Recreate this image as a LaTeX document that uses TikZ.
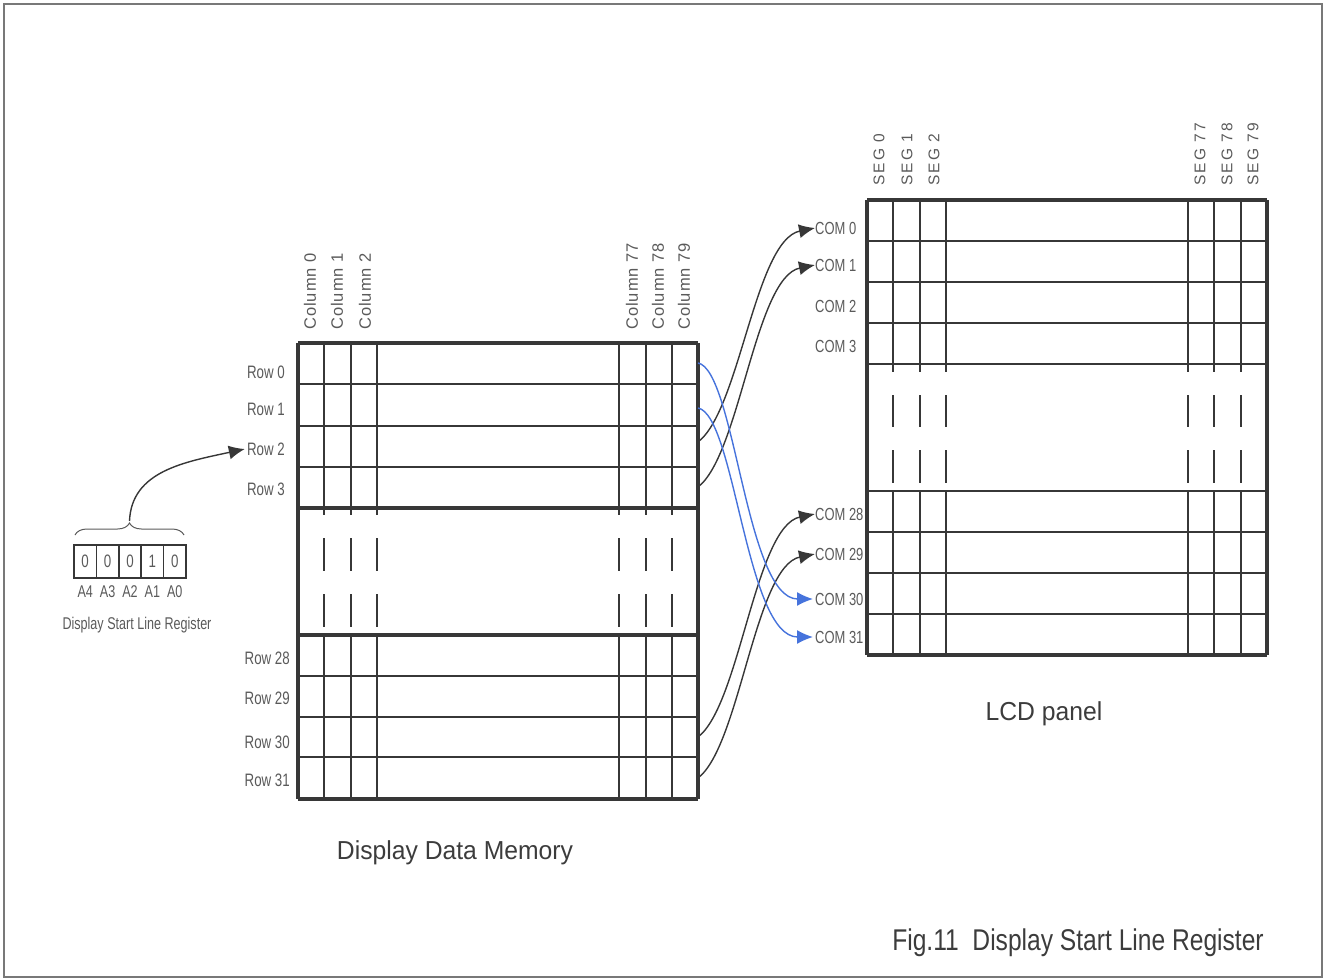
\documentclass[tikz,border=0pt]{standalone}
\usepackage{fontspec}
\setmainfont{Liberation Sans}
\newfontfamily\nfont[FakeStretch=0.74]{Liberation Sans}
\newfontfamily\tfont[FakeStretch=0.95]{Liberation Sans}
\newfontfamily\ffont[FakeStretch=0.82]{Liberation Sans}
\newfontfamily\colfont[LetterSpace=6]{Liberation Sans}
\newfontfamily\segfont[LetterSpace=14]{Liberation Sans}
\usetikzlibrary{arrows.meta,decorations.pathreplacing}
\definecolor{gridc}{RGB}{55,55,55}
\definecolor{txtc}{RGB}{90,90,90}
\definecolor{ttlc}{RGB}{60,60,60}
\definecolor{blc}{RGB}{70,115,220}
\definecolor{framec}{RGB}{120,120,120}
\tikzset{
  gline/.style={draw=gridc, line width=2.2pt},
  tline/.style={draw=gridc, line width=3.2pt},
  hline/.style={draw=gridc, line width=1.5pt},
  rowlab/.style={anchor=east, inner sep=0pt, text=txtc, font=\nfont\fontsize{18}{18}\selectfont},
  comlab/.style={anchor=west, inner sep=0pt, text=txtc, font=\nfont\fontsize{17.5}{17.5}\selectfont},
  collab/.style={rotate=90, anchor=west, inner sep=0pt, text=txtc, font=\colfont\fontsize{16.5}{16.5}\selectfont},
  seglab/.style={rotate=90, anchor=west, inner sep=0pt, text=txtc, font=\segfont\fontsize{15.5}{15.5}\selectfont},
  regcell/.style={draw=gridc, line width=1.5pt, minimum width=22.4pt, minimum height=33pt, inner sep=0pt, text=txtc, font=\nfont\fontsize{18}{18}\selectfont},
  reglab/.style={inner sep=0pt, text=txtc, font=\nfont\fontsize{17}{17}\selectfont},
  title/.style={inner sep=0pt, text=ttlc, font=\tfont\fontsize{26}{26}\selectfont},
  blkarrow/.style={draw=gridc, line width=1.4pt, -{Latex[length=16pt,width=14pt]}},
  bluarrow/.style={draw=blc, line width=1.4pt, -{Latex[length=16pt,width=14pt]}}
}
\begin{document}
\begin{tikzpicture}[x=1pt,y=-1pt]
\useasboundingbox (0,0) rectangle (1325,979);
\draw[draw=framec, line width=2pt] (4,4) rectangle (1322,977);

% ---------- Display data memory grid ----------
\foreach \y in {384,426,467,676,717,757} \draw[gline] (298,\y) -- (698,\y);
\foreach \y in {343,508,635,799} \draw[tline] (298,\y) -- (698,\y);
\draw[tline] (298,343) -- (298,799);
\draw[tline] (698,343) -- (698,799);
\foreach \x in {324,351,377,619,646,672} {
  \draw[gline] (\x,343) -- (\x,515);
  \draw[gline] (\x,538) -- (\x,571);
  \draw[gline] (\x,594) -- (\x,627);
  \draw[gline] (\x,635) -- (\x,799);
}

% column labels
\node[collab] (col0)  at (310,330) {Column 0};
\node[collab] (col1)  at (337,330) {Column 1};
\node[collab] (col2)  at (365,330) {Column 2};
\node[collab] (col77) at (632,330) {Column 77};
\node[collab] (col78) at (658,330) {Column 78};
\node[collab] (col79) at (684,330) {Column 79};

% row labels
\node[rowlab] (r0)  at (285,372) {Row 0};
\node[rowlab] (r1)  at (285,409) {Row 1};
\node[rowlab] (r2)  at (285,449) {Row 2};
\node[rowlab] (r3)  at (285,489) {Row 3};
\node[rowlab] (r28) at (290,658) {Row 28};
\node[rowlab] (r29) at (290,698) {Row 29};
\node[rowlab] (r30) at (290,742) {Row 30};
\node[rowlab] (r31) at (290,780) {Row 31};

% ---------- LCD panel grid ----------
\foreach \y in {241,282,323,364,532,573,614} \draw[gline] (867,\y) -- (1267,\y);
\foreach \y in {200,655} \draw[tline] (867,\y) -- (1267,\y);
\draw[hline] (867,491) -- (1267,491);
\draw[tline] (867,200) -- (867,655);
\draw[tline] (1267,200) -- (1267,655);
\foreach \x in {893,920,946,1188,1214,1241} {
  \draw[gline] (\x,200) -- (\x,372);
  \draw[gline] (\x,395) -- (\x,427);
  \draw[gline] (\x,450) -- (\x,483);
  \draw[gline] (\x,491) -- (\x,655);
}

% SEG labels
\node[seglab] (s0)  at (879,186) {SEG 0};
\node[seglab] (s1)  at (907,186) {SEG 1};
\node[seglab] (s2)  at (934,186) {SEG 2};
\node[seglab] (s77) at (1200,186) {SEG 77};
\node[seglab] (s78) at (1227,186) {SEG 78};
\node[seglab] (s79) at (1253,186) {SEG 79};

% COM labels
\node[comlab] (c0)  at (815,228) {COM 0};
\node[comlab] (c1)  at (815,265) {COM 1};
\node[comlab] (c2)  at (815,306) {COM 2};
\node[comlab] (c3)  at (815,346) {COM 3};
\node[comlab] (c28) at (815,514) {COM 28};
\node[comlab] (c29) at (815,554) {COM 29};
\node[comlab] (c30) at (815,599) {COM 30};
\node[comlab] (c31) at (815,637) {COM 31};

% arrow start points on memory right edge
\coordinate (m0)  at (698,363);
\coordinate (m1)  at (698,408);
\coordinate (m2)  at (698,442);
\coordinate (m3)  at (698,487);
\coordinate (m30) at (698,737);
\coordinate (m31) at (698,778);

\draw[blkarrow] (m2)  .. controls +(42,-32) and +(-60,12) .. (c0.west);
\draw[blkarrow] (m3)  .. controls +(42,-32) and +(-60,12) .. (c1.west);
\draw[blkarrow] (m30) .. controls +(42,-32) and +(-60,12) .. (c28.west);
\draw[blkarrow] (m31) .. controls +(42,-32) and +(-60,12) .. (c29.west);
\draw[bluarrow] (m0)  .. controls +(37,7) and +(-67,0) .. ([xshift=-2pt]c30.west);
\draw[bluarrow] (m1)  .. controls +(37,7) and +(-67,0) .. ([xshift=-2pt]c31.west);

% ---------- start line register ----------
\node[regcell] (b4) at (85.2,561.5)  {0};
\node[regcell] (b3) at (107.6,561.5) {0};
\node[regcell] (b2) at (130.0,561.5) {0};
\node[regcell] (b1) at (152.4,561.5) {1};
\node[regcell] (b0) at (174.8,561.5) {0};
\node[reglab] (a4) at (85.2,592)  {A4};
\node[reglab] (a3) at (107.6,592) {A3};
\node[reglab] (a2) at (130.0,592) {A2};
\node[reglab] (a1) at (152.4,592) {A1};
\node[reglab] (a0) at (174.8,592) {A0};
\node[reglab] (regname) at (137,625) {Display Start Line Register};
\draw[draw=txtc, line width=1pt, decorate, decoration={brace, amplitude=12pt}] (75,535) -- (184,535);
\coordinate (bt) at (129.5,521);
\draw[blkarrow] (bt) .. controls +(2,-50) and +(-60,13) .. ([xshift=-2pt]r2.west);

% ---------- titles ----------
\node[title] (ddm) at (455,853) {Display Data Memory};
\node[title] (lcd) at (1044,714) {LCD panel};
\node[inner sep=0pt, text=ttlc, font=\ffont\fontsize{30}{30}\selectfont] (fig) at (1078,943) {Fig.11\ \ Display Start Line Register};
\end{tikzpicture}
\end{document}
